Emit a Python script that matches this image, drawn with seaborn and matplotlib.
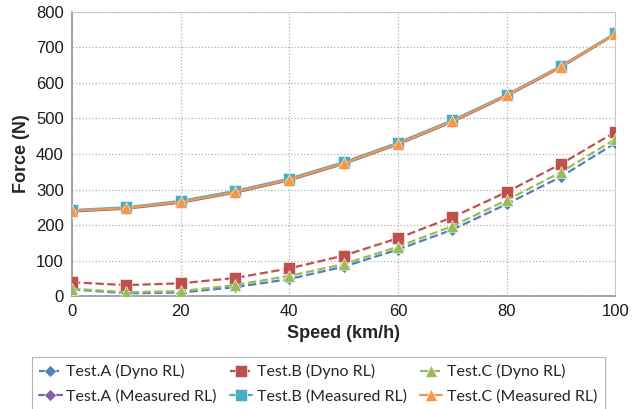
import matplotlib
matplotlib.use("Agg")
import matplotlib.pyplot as plt
import seaborn as sns
import pandas as pd

speed = [0, 10, 20, 30, 40, 50, 60, 70, 80, 90, 100]

dyno_a = [19, 8, 10, 25, 48, 83, 131, 187, 259, 336, 431]
dyno_b = [39, 31, 36, 51, 78, 114, 163, 222, 293, 372, 462]
dyno_c = [21, 11, 14, 31, 57, 90, 139, 197, 270, 349, 442]
meas_a = [238, 246, 263, 291, 326, 372, 427, 490, 563, 644, 737]
meas_b = [242, 250, 268, 296, 331, 377, 432, 495, 567, 648, 740]
meas_c = [240, 248, 265, 293, 328, 374, 429, 492, 565, 646, 738]

labels = ["Test.A (Dyno RL)", "Test.B (Dyno RL)", "Test.C (Dyno RL)",
          "Test.A (Measured RL)", "Test.B (Measured RL)", "Test.C (Measured RL)"]
values = [dyno_a, dyno_b, dyno_c, meas_a, meas_b, meas_c]
colors = ["#4F81BD", "#C0504D", "#9BBB59", "#8064A2", "#4BACC6", "#F79646"]
markers = ["D", "s", "^", "D", "s", "^"]
sizes = [6, 9, 9, 6, 9, 9]
styles = ["--", "--", "--", "-", "-", "-"]

df = pd.DataFrame({
    "speed": speed * len(labels),
    "force": [v for vals in values for v in vals],
    "series": [lab for lab in labels for _ in speed],
})

sns.set_theme(style="white")
plt.rcParams["font.family"] = ["Liberation Sans", "DejaVu Sans"]

fig = plt.figure(figsize=(6.4, 4.09), dpi=100)
ax = fig.add_axes([0.1125, 0.276, 0.849, 0.695])

for i, lab in enumerate(labels):
    sub = df[df["series"] == lab]
    sns.lineplot(data=sub, x="speed", y="force", ax=ax, color=colors[i],
                 marker=markers[i], markersize=sizes[i], linestyle=styles[i],
                 linewidth=1.6, markeredgecolor="white", markeredgewidth=0.4,
                 label=lab, legend=False, zorder=3 + i)

ax.set_xlim(0, 100)
ax.set_ylim(0, 800)
ax.set_xticks(range(0, 101, 20))
ax.set_yticks(range(0, 801, 100))
ax.grid(True, color="#B0B0B0", linestyle=":", linewidth=0.9)
ax.tick_params(axis="both", labelsize=12, length=0, pad=6, colors="#1A1A1A")
ax.set_xlabel("Speed (km/h)", fontsize=13, fontweight="bold", labelpad=4)
ax.set_ylabel("Force (N)", fontsize=13, fontweight="bold", labelpad=4)
for side in ["left", "bottom"]:
    ax.spines[side].set_color("#999999")
for side in ["top", "right"]:
    ax.spines[side].set_color("#C8C8C8")
    ax.spines[side].set_linewidth(0.8)

# legend fills column by column; reorder so rows read A, B, C
handles, labs = ax.get_legend_handles_labels()
idx = [0, 3, 1, 4, 2, 5]
leg = fig.legend([handles[k] for k in idx], [labs[k] for k in idx], ncol=3,
                 loc="upper left", bbox_to_anchor=(0.05, 0.0, 0.895, 0.127),
                 mode="expand", prop={"family": "Lato", "size": 11.5},
                 frameon=True, fancybox=False, edgecolor="#A0A0A0",
                 handlelength=1.4, handletextpad=0.3, borderpad=0.45,
                 labelspacing=0.6, columnspacing=1.0, borderaxespad=0)
leg.get_frame().set_linewidth(0.8)

fig.savefig("out.png", dpi=100)
